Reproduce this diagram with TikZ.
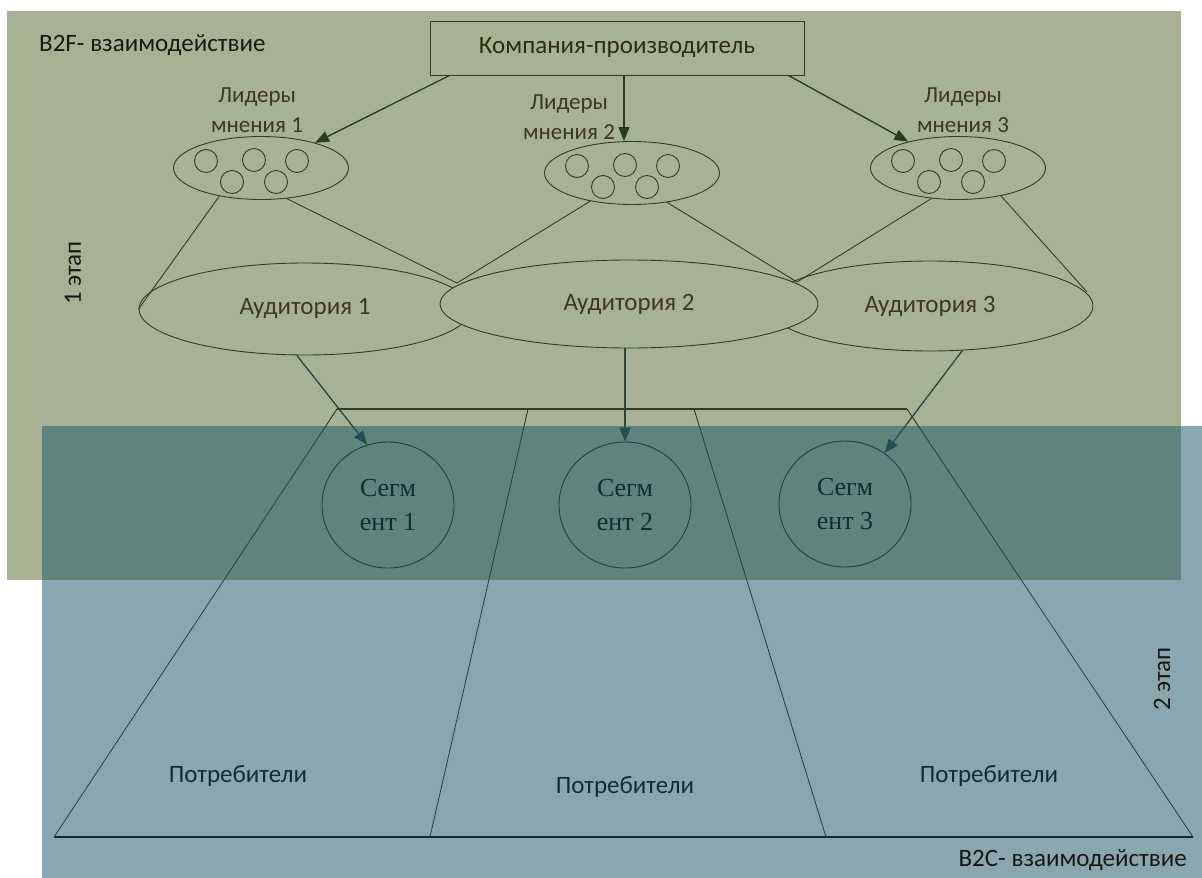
\documentclass[tikz,border=0pt]{standalone}
\usepackage{fontspec}
\setmainfont{Carlito}
\newfontfamily\segfont{Liberation Serif}
\usetikzlibrary{shapes.geometric,arrows.meta}

\definecolor{bgGreen}{RGB}{167,178,148}
\definecolor{bgBlue}{RGB}{32,88,103}
\definecolor{lineOlive}{RGB}{52,60,38}
\definecolor{txtOlive}{RGB}{62,56,30}
\definecolor{txtDark}{RGB}{24,24,16}
\definecolor{arrTeal}{RGB}{40,70,64}
\definecolor{arrGreen}{RGB}{44,58,30}

\tikzset{
  outline/.style={draw=lineOlive, line width=0.9pt},
  lidell/.style={outline, ellipse, inner sep=0pt, minimum width=175pt, minimum height=63pt},
  dotc/.style={outline, circle, inner sep=0pt, minimum size=23pt},
  lidtext/.style={text=txtOlive, align=center, font=\fontsize{23}{30}\selectfont},
  audell/.style={outline, ellipse, fill=bgGreen, inner sep=0pt, text=txtOlive,
                 font=\fontsize{25}{30}\selectfont},
  segell/.style={draw=black!85, line width=0.9pt, ellipse, inner sep=0pt,
                 minimum width=132pt, minimum height=126pt, align=center,
                 font=\segfont\fontsize{26}{34}\selectfont},
  toplead/.style={draw=arrGreen, line width=1.3pt,
                  -{Triangle[length=14pt,width=11pt]}},
  toseg/.style={draw=arrTeal, line width=1.3pt,
                -{Triangle[length=14pt,width=11pt]}},
  captext/.style={text=txtDark, font=\fontsize{25}{30}\selectfont},
  stagetext/.style={text=txtDark, rotate=90, font=\fontsize{25}{30}\selectfont},
  consumer/.style={text=black, font=\fontsize{25}{30}\selectfont}
}

\begin{document}
\begin{tikzpicture}[x=1pt,y=-1pt]
  \useasboundingbox (0,0) rectangle (1202,878);
  \fill[white] (0,0) rectangle (1202,878);

  % B2F area
  \fill[bgGreen] (7,11) rectangle (1181,580);
  \node[captext, anchor=west, inner sep=0pt] (b2f) at (39,45) {B2F- взаимодействие};
  \node[stagetext] (stage1) at (73,273) {1 этап};

  % manufacturer
  \node[outline, text=txtDark!80!olive, minimum width=374pt, minimum height=54pt,
        inner sep=0pt, font=\fontsize{25}{30}\selectfont] (box) at (617,48)
        {Компания-производитель};

  % opinion leaders
  \node[lidell] (lid1) at (261,168) {};
  \node[lidell] (lid2) at (632,173) {};
  \node[lidell] (lid3) at (958,168) {};
  \foreach \g in {lid1,lid2,lid3}{
    \foreach \k/\dx/\dy in {a/-55/-7, b/-7/-8, c/36/-7, d/-29/14, e/15/14}{
      \node[dotc] (\g\k) at ([shift={(\dx,\dy)}]\g.center) {};
    }
  }
  \node[lidtext] (lid1lbl) at (257,110) {Лидеры\\мнения 1};
  \node[lidtext] (lid2lbl) at (569,117) {Лидеры\\мнения 2};
  \node[lidtext] (lid3lbl) at (963,110) {Лидеры\\мнения 3};

  \draw[toplead] ([xshift=20pt]box.south west) -- (lid1.25);
  \draw[toplead] ([xshift=7pt]box.south) -- ([xshift=7pt]box.south |- lid2.north);
  \draw[toplead] ([xshift=-16pt]box.south east) -- (lid3.152);

  % consumers funnel (under the B2C overlay)
  \coordinate (tl) at (337,409);
  \coordinate (tr) at (907,409);
  \coordinate (bl) at (54,837);
  \coordinate (br) at (1193,837);
  \coordinate (d1t) at (528,409);
  \coordinate (d1b) at (430,837);
  \coordinate (d2t) at (694,409);
  \coordinate (d2b) at (826,837);
  \draw[draw=lineOlive, line width=1.5pt] (tl) -- (tr);
  \draw[draw=black, line width=1.6pt] (bl) -- (br);
  \draw[draw=black!85, line width=0.8pt] (tl) -- (bl) (tr) -- (br) (d1t) -- (d1b) (d2t) -- (d2b);

  % audiences
  \node[audell, minimum width=332pt, minimum height=92pt] (aud1) at (305,309) {Аудитория 1};
  \node[audell, minimum width=326pt, minimum height=90pt] (aud3) at (930,306) {Аудитория 3};
  \node[audell, minimum width=378pt, minimum height=88pt] (aud2) at (629,304) {Аудитория 2};

  \coordinate (j12) at (457,283);
  \coordinate (j23) at (797,282);
  \coordinate (a3e) at (1087,292);
  \draw[outline] (lid1.-146) -- (aud1.west);
  \draw[outline] (lid1.-50) -- (j12);
  \draw[outline] (lid2.-146) -- (j12);
  \draw[outline] (lid2.-40) -- (j23);
  \draw[outline] (lid3.-131) -- (j23);
  \draw[outline] (lid3.-33) -- (a3e);

  % segments
  \node[segell] (seg1) at (388,505) {Сегм\\ент 1};
  \node[segell] (seg2) at (625,505) {Сегм\\ент 2};
  \node[segell] (seg3) at (845,504) {Сегм\\ент 3};

  \draw[toseg] (aud1.-100) -- (seg1.109);
  \draw[toseg] (aud2.south -| seg2.north) -- (seg2.north);
  \draw[toseg] (aud3.-54) -- (seg3.52);

  \node[consumer] (cons1) at (238,776) {Потребители};
  \node[consumer] (cons2) at (625,787) {Потребители};
  \node[consumer] (cons3) at (989,776) {Потребители};

  % B2C overlay
  \fill[bgBlue, fill opacity=0.52] (42,426) rectangle (1202,878);
  \node[captext, anchor=east, inner sep=0pt] (b2c) at (1187,860) {B2C- взаимодействие};
  \node[stagetext] (stage2) at (1162,679) {2 этап};
\end{tikzpicture}
\end{document}
